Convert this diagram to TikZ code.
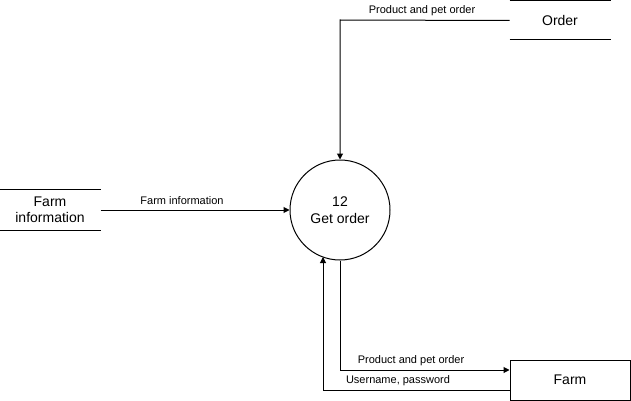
\documentclass[tikz,border=0pt]{standalone}
\usepackage{fontspec}
\setmainfont{Liberation Sans}
\usetikzlibrary{arrows.meta}
\begin{document}
\begin{tikzpicture}[x=1pt,y=-1pt,line width=1pt,
  flow/.style={draw,-{Triangle[length=6pt,width=6pt]}},
  lbl/.style={font=\fontsize{11}{12}\selectfont,inner sep=0pt},
  big/.style={font=\fontsize{14}{16.5}\selectfont,align=center}]
\useasboundingbox (0,0) rectangle (631,401);
% process
\node[draw,circle,minimum size=100pt,inner sep=0pt,big] (proc) at (340,210) {12\\Get order};
% data store: Farm information
\node[minimum width=100pt,minimum height=40pt,inner sep=0pt,big] (fi) at (50,210) {Farm\\information};
\draw (fi.north west) -- (fi.north east);
\draw (fi.south west) -- (fi.south east);
% data store: Order
\node[minimum width=100pt,minimum height=38pt,inner sep=0pt,big] (ord) at (560,20.5) {Order};
\draw (ord.north west) -- (ord.north east);
\draw (ord.south west) -- (ord.south east);
% external entity: Farm
\node[draw,minimum width=120pt,minimum height=40pt,inner sep=0pt,big] (farm) at (570,380) {Farm};
% coordinates
\coordinate (c1) at (340,20);
\coordinate (c2) at (340,370);
\coordinate (c3) at (323,390);
\coordinate (c4) at (323,257);
% connectors
\draw[flow] (fi.east) -- (proc.west);
\node[lbl] at (182,201) {Farm information};
\draw[flow] (ord.west) -- (c1) -- (proc.north);
\node[lbl] at (422,11) {Product and pet order};
\draw[flow] (proc.south) -- (c2) -- (farm.west |- c2);
\node[lbl] at (411,361) {Product and pet order};
\draw[flow] (farm.west |- c3) -- (c3) -- (c4);
\node[lbl] at (398,381) {Username, password};
\end{tikzpicture}
\end{document}
